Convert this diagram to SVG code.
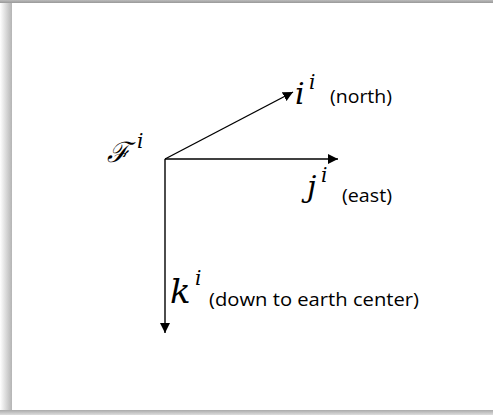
<svg xmlns="http://www.w3.org/2000/svg" width="493" height="415" viewBox="0 0 493 415">
<defs>
<linearGradient id="gl" x1="0" x2="1" y1="0" y2="0"><stop offset="0" stop-color="#fff"/><stop offset="1" stop-color="#b4b4b4"/></linearGradient>
<linearGradient id="gt" x1="0" x2="0" y1="0" y2="1"><stop offset="0" stop-color="#bbb"/><stop offset="1" stop-color="#999"/></linearGradient>
<linearGradient id="gb" x1="0" x2="0" y1="0" y2="1"><stop offset="0" stop-color="#aaa"/><stop offset="1" stop-color="#ddd"/></linearGradient>
<marker id="ah" viewBox="0 0 10 10" refX="10" refY="5" markerWidth="10" markerHeight="10" markerUnits="userSpaceOnUse" orient="auto"><path d="M0,0 L10,5 L0,10 z" fill="#000"/></marker>
<style>
.m{font-family:"DejaVu Serif","Liberation Serif",serif;font-style:italic;fill:#000}
.big{font-size:30px}
.sup{font-size:20px}
.t{font-family:"Open Sans","Liberation Sans",sans-serif;font-size:18px;fill:#000}
.ax{stroke:#000;stroke-width:1.4;fill:none;marker-end:url(#ah)}
</style>
</defs>
<rect x="0" y="0" width="493" height="415" fill="#fff"/>
<rect x="0" y="0" width="12" height="415" fill="url(#gl)"/>
<rect x="0" y="0" width="493" height="3" fill="url(#gt)"/>
<rect x="0" y="410" width="493" height="5" fill="url(#gb)"/>
<rect x="12" y="3" width="481" height="407" fill="#fff"/>
<g id="connectors">
<line class="ax" x1="165" y1="159" x2="293" y2="92"/>
<line class="ax" x1="165" y1="159" x2="338" y2="159"/>
<line class="ax" x1="165" y1="159" x2="165" y2="333"/>
</g>
<g id="frame-label"><text class="m" x="107" y="162" style="font-size:28px">ℱ</text><text class="m sup" x="137" y="148">i</text></g>
<g id="i-axis"><text class="m big" x="295" y="104">i</text><text class="m sup" x="309" y="89">i</text><text class="t" x="330" y="103" textLength="62" lengthAdjust="spacingAndGlyphs">(north)</text></g>
<g id="j-axis"><text class="m big" x="307" y="197">j</text><text class="m sup" x="321" y="182">i</text><text class="t" x="342" y="202" textLength="50" lengthAdjust="spacingAndGlyphs">(east)</text></g>
<g id="k-axis"><text class="m big" x="170" y="303" style="font-size:34px">k</text><text class="m sup" x="195" y="285">i</text><text class="t" x="209" y="306" textLength="210" lengthAdjust="spacingAndGlyphs">(down to earth center)</text></g>
</svg>
